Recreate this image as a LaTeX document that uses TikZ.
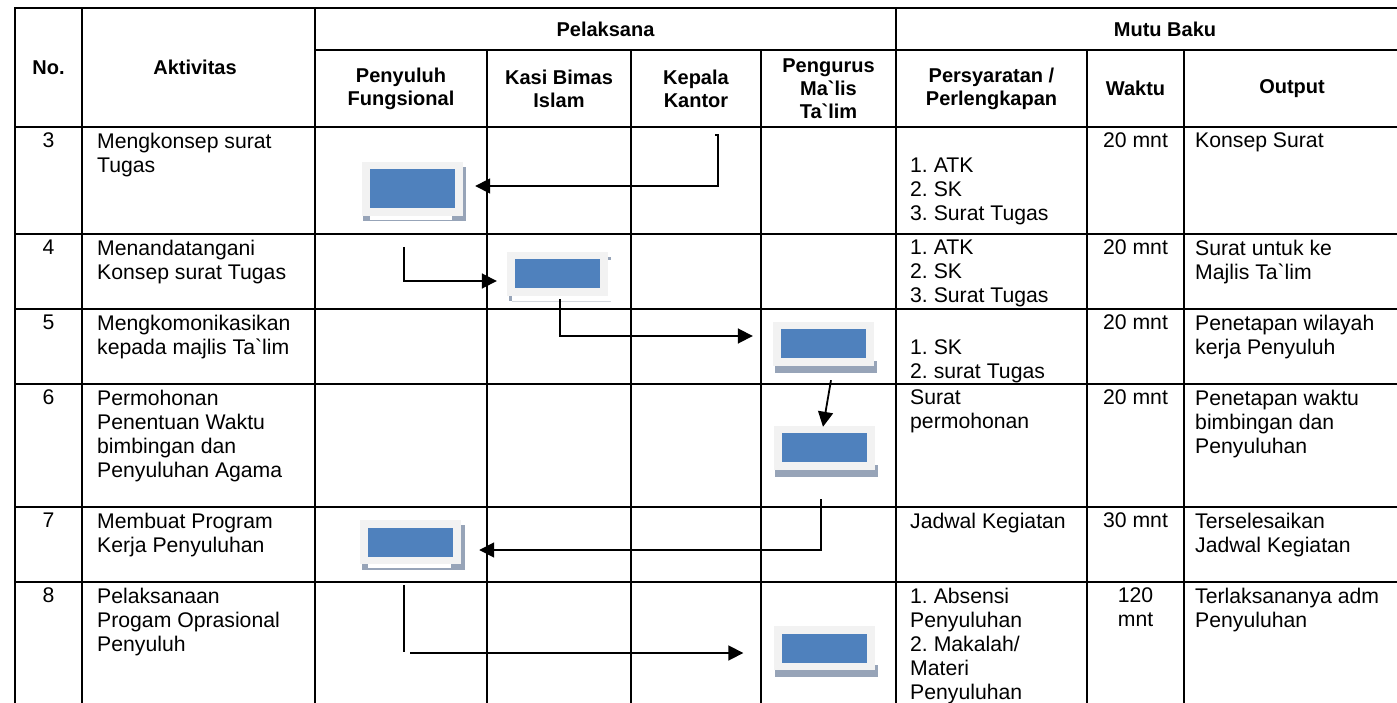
\documentclass[tikz,border=0pt]{standalone}
\usepackage{fontspec}
\setmainfont{Liberation Sans}
\usetikzlibrary{arrows.meta,calc}
\definecolor{boxbg}{HTML}{F2F2F2}
\definecolor{boxblue}{HTML}{4F81BD}
\definecolor{boxshadow}{HTML}{97A4B8}
\definecolor{faint}{HTML}{D3D7DE}
\pgfdeclarelayer{bg}
\pgfsetlayers{bg,main}
\newcommand\gv{\textasciigrave}
\begin{document}
\frenchspacing
\begin{tikzpicture}[x=1pt,y=-1pt,
  grid/.style={line width=2.5pt, line cap=rect},
  body/.style={font=\fontsize{21.2}{24}\selectfont\frenchspacing, inner sep=0pt, align=left, anchor=north west},
  bodyc/.style={font=\fontsize{21.2}{24}\selectfont\frenchspacing, inner sep=0pt, align=center, anchor=north},
  hdr/.style={font=\fontsize{20}{23}\selectfont\bfseries, inner sep=0pt, align=center, anchor=center},
  flowbox/.style={fill=boxbg, minimum width=101pt, minimum height=44pt, inner sep=0pt,
     path picture={\fill[boxblue] ($(path picture bounding box.south west)+(8pt,7.5pt)$) rectangle ($(path picture bounding box.north east)+(-8pt,-7.5pt)$);}},
  flow/.style={line width=1.8pt, -{Triangle[length=15pt,width=15pt]}},
  plain/.style={line width=1.8pt}
]
\useasboundingbox (0,0) rectangle (1397,703);

% ---- table grid ----
\draw[grid] (15,8) -- (1397,8);
\draw[grid] (315,50) -- (1397,50);
\foreach \y in {127,234,309,384,507,582} \draw[grid] (15,\y) -- (1397,\y);
\foreach \x in {15,82,315,896} \draw[grid] (\x,8) -- (\x,703);
\foreach \x in {487,631,761,1087,1184} \draw[grid] (\x,50) -- (\x,703);

% ---- headers ----
\node[hdr] (hno) at (48.5,67.5) {No.};
\node[hdr] (hakt) at (195,67.5) {Aktivitas};
\node[hdr] (hpel) at (605.5,29) {Pelaksana};
\node[hdr] (hmutu) at (1165,29) {Mutu Baku};
\node[hdr] (hpen) at (401,88.5) {Penyuluh\\Fungsional};
\node[hdr] (hkasi) at (559,88.5) {Kasi Bimas\\Islam};
\node[hdr] (hkep) at (696,88.5) {Kepala\\Kantor};
\node[hdr] (hpeng) at (828.5,88.5) {Pengurus\\Ma\gv lis\\Ta\gv lim};
\node[hdr] (hsyar) at (991.5,88.5) {Persyaratan /\\Perlengkapan};
\node[hdr] (hwak) at (1135.5,88.5) {Waktu};
\node[hdr] (hout) at (1292,88.5) {Output};

% ---- numbers ----
\node[bodyc] (n3) at (48.5,132.7) {3};
\node[bodyc] (n4) at (48.5,239.7) {4};
\node[bodyc] (n5) at (48.5,314.7) {5};
\node[bodyc] (n6) at (48.5,389.7) {6};
\node[bodyc] (n7) at (48.5,512.7) {7};
\node[bodyc] (n8) at (48.5,587.7) {8};

% ---- aktivitas ----
\node[body] (t3) at (97,132.7) {Mengkonsep surat\\Tugas};
\node[body] (t4) at (97,239.7) {Menandatangani\\Konsep surat Tugas};
\node[body] (t5) at (97,314.7) {Mengkomonikasikan\\kepada majlis Ta\gv lim};
\node[body] (t6) at (97,389.7) {Permohonan\\Penentuan Waktu\\bimbingan dan\\Penyuluhan Agama};
\node[body] (t7) at (97,512.7) {Membuat Program\\Kerja Penyuluhan};
\node[body] (t8) at (97,587.7) {Pelaksanaan\\Progam Oprasional\\Penyuluh};

% ---- persyaratan ----
\node[body] (p3) at (910,157.7) {1. ATK\\2. SK\\3. Surat Tugas};
\node[body] (p4) at (910,239.7) {1. ATK\\2. SK\\3. Surat Tugas};
\node[body] (p5) at (910,339.2) {1. SK\\2. surat Tugas};
\node[body] (p6) at (910,389.7) {Surat\\permohonan};
\node[body] (p7) at (910,512.7) {Jadwal Kegiatan};
\node[body] (p8) at (910,587.7) {1. Absensi\\Penyuluhan\\2. Makalah/\\Materi\\Penyuluhan};

% ---- waktu ----
\node[bodyc] (w3) at (1135.5,132.7) {20 mnt};
\node[bodyc] (w4) at (1135.5,239.7) {20 mnt};
\node[bodyc] (w5) at (1135.5,314.7) {20 mnt};
\node[bodyc] (w6) at (1135.5,389.7) {20 mnt};
\node[bodyc] (w7) at (1135.5,512.7) {30 mnt};
\node[bodyc] (w8) at (1135.5,587.7) {120\\mnt};

% ---- output ----
\node[body] (o3) at (1195,132.7) {Konsep Surat};
\node[body] (o4) at (1195,239.7) {Surat untuk ke\\Majlis Ta\gv lim};
\node[body] (o5) at (1195,314.7) {Penetapan wilayah\\kerja Penyuluh};
\node[body] (o6) at (1195,389.7) {Penetapan waktu\\bimbingan dan\\Penyuluhan};
\node[body] (o7) at (1195,512.7) {Terselesaikan\\Jadwal Kegiatan};
\node[body] (o8) at (1195,587.7) {Terlaksananya adm\\Penyuluhan};

% ---- flow boxes ----
\node[flowbox, minimum height=54pt] (b1) at (412.5,189) {};
\node[flowbox] (b2) at (557.5,274) {};
\node[flowbox] (b3) at (823.5,343.5) {};
\node[flowbox] (b4) at (824,447.5) {};
\node[flowbox] (b5) at (410.5,542) {};
\node[flowbox] (b6) at (824,648) {};

\begin{pgfonlayer}{bg}
  \fill[boxshadow] ($(b1.north west)+(1,5)$) rectangle ($(b1.south east)+(3,5)$);
  \fill[boxshadow] ($(b5.north west)+(2.5,5)$) rectangle ($(b5.south east)+(4,6)$);
  \fill[boxshadow] ($(b3.south west)+(2,-5)$) rectangle ($(b3.south east)+(3,7)$);
  \fill[boxshadow] ($(b4.south west)+(2,-5)$) rectangle ($(b4.south east)+(3,7)$);
  \fill[boxshadow] ($(b6.south west)+(2,-5)$) rectangle ($(b6.south east)+(3,7)$);
\end{pgfonlayer}
\fill[white] ($(b1.south west)+(8,0)$) rectangle ($(b1.south east)+(-11,3.5)$);
\fill[white] ($(b5.south west)+(8.5,0)$) rectangle ($(b5.south east)+(-10,3.5)$);
\fill[boxshadow] ($(b2.south west)+(2,0)$) rectangle ($(b2.south west)+(5,5)$);
\fill[boxshadow] ($(b2.north east)+(0,5)$) rectangle ($(b2.north east)+(3,8)$);
\draw[line width=0.8pt, faint] ($(b2.south west)+(5,5)$) -- ($(b2.south east)+(3,5)$);

% ---- connectors ----
\coordinate (a1s) at (718,135);
\draw[flow] ($(a1s)+(-3,0)$) -- (a1s) |- ($(b1.east)+(12,-3)$);
\coordinate (a2s) at (404,247);
\draw[flow] (a2s) |- ($(b2.west)+(-10,7)$);
\draw[flow] ($(b2.south)+(2.5,3)$) |- ($(b3.west)+(-20,-7.5)$);
\draw[flow] ($(b3.south)+(7.5,14.5)$) -- ($(b4.north)+(-1,1.5)$);
\draw[flow] ($(b4.south)+(-3,29.5)$) |- ($(b5.east)+(18,8)$);
\coordinate (a6s) at (404,585);
\coordinate (a6c) at (404,652);
\draw[plain] (a6s) -- (a6c);
\draw[flow] ($(a6c)+(6,1)$) -- ($(b6.west)+(-30,5)$);
\end{tikzpicture}
\end{document}
